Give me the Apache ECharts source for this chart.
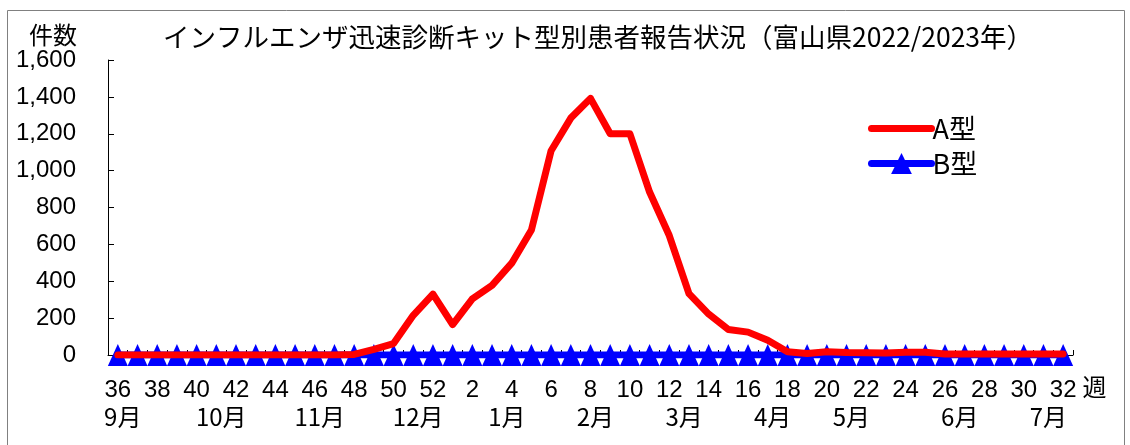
<!DOCTYPE html>
<html>
<head>
<meta charset="utf-8">
<script src="https://cdn.jsdelivr.net/npm/echarts@6/dist/echarts.min.js"></script>
<style>
html,body{margin:0;padding:0;background:#fff;}
#c{width:1130px;height:445px;}
</style>
</head>
<body>
<div id="c"></div>
<script>
// Week numbers (2022 wk36 – 2023 wk32)
const weeks = ['36','37','38','39','40','41','42','43','44','45','46','47','48','49','50','51','52',
  '1','2','3','4','5','6','7','8','9','10','11','12','13','14','15','16','17','18','19','20',
  '21','22','23','24','25','26','27','28','29','30','31','32'];
// A型 reports per week
const typeA = [0,0,0,0,0,0,0,0,0,0,0,0,3,30,62,215,330,
  165,305,378,498,678,1108,1285,1392,1200,1200,884,648,333,222,138,124,80,18,8,18,
  13,12,11,15,15,6,5,5,6,6,6,5];
// B型 reports per week
const typeB = [0,0,0,0,0,0,0,0,0,0,0,0,0,0,0,0,0,
  0,0,0,0,0,0,0,0,0,0,0,0,0,0,0,0,0,0,0,0,
  0,0,0,0,0,0,0,0,0,0,0,0];
// Month labels and their half-week slot on the week axis
const months = ['9月','10月','11月','12月','1月','2月','3月','4月','5月','6月','7月'];
const monthSlots = [1,11,21,31,40,49,58,67,75,86,95];

const halfSlots = [];
for (let j = 0; j < weeks.length * 2; j++) halfSlots.push(String(j));
const monthAt = {};
monthSlots.forEach((s, k) => { monthAt[s] = months[k]; });

const FONT = '"Noto Sans CJK JP", "Liberation Sans", sans-serif';
const chart = echarts.init(document.getElementById('c'));
chart.setOption({
  backgroundColor: '#fff',
  animation: false,
  graphic: [{
    type: 'rect', left: 5, top: 8, z: -1,
    shape: { width: 1117, height: 445 },
    style: { fill: 'none', stroke: '#808080', lineWidth: 1 }
  }],
  title: {
    text: 'インフルエンザ迅速診断キット型別患者報告状況（富山県2022/2023年）',
    left: 163, top: 24, padding: 0,
    textStyle: { fontFamily: FONT, fontSize: 26.5, fontWeight: 'normal', color: '#000' }
  },
  legend: {
    orient: 'vertical', left: 868, top: 115, padding: 0, itemGap: 8,
    itemWidth: 60, itemHeight: 26,
    lineStyle: { width: 7, cap: 'round' },
    textStyle: { fontFamily: FONT, fontSize: 27, color: '#000', padding: [0, 0, 0, -4] },
    data: [
      { name: 'A型', itemStyle: { opacity: 0 }, lineStyle: { color: '#ff0000', width: 7, cap: 'round' } },
      { name: 'B型', lineStyle: { color: '#0000ff', width: 7, cap: 'round' } }
    ]
  },
  grid: { left: 108, right: 57, top: 60, bottom: 90 },
  xAxis: [{
    type: 'category', data: weeks, boundaryGap: true, position: 'bottom',
    name: '週', nameLocation: 'end', nameGap: 5,
    nameTextStyle: { fontFamily: FONT, fontSize: 24, color: '#000', verticalAlign: 'top', padding: [20, 0, 0, 0] },
    axisLine: { lineStyle: { color: '#000', width: 1 } },
    axisTick: { show: true, inside: true, length: 5, interval: 0, lineStyle: { color: '#000' } },
    axisLabel: { interval: 1, margin: 23, fontFamily: '"Liberation Sans", sans-serif', fontSize: 24, color: '#000', lineHeight: 24 },
    splitLine: { show: false }
  }, {
    type: 'category', data: halfSlots, boundaryGap: true, position: 'bottom', offset: 27,
    axisLine: { show: false }, axisTick: { show: false }, splitLine: { show: false },
    axisLabel: {
      interval: 0, margin: 23, fontFamily: FONT, fontSize: 24, color: '#000', lineHeight: 24,
      formatter: v => monthAt[Number(v)] || ''
    }
  }],
  yAxis: {
    type: 'value', min: 0, max: 1600, interval: 200,
    name: '件数', nameLocation: 'end', nameGap: 25,
    nameTextStyle: { fontFamily: FONT, fontSize: 24, color: '#000', align: 'right', verticalAlign: 'middle', padding: [0, 31, 0, 0] },
    axisLine: { show: true, lineStyle: { color: '#000', width: 1 } },
    axisTick: { show: true, inside: true, length: 6, lineStyle: { color: '#000' } },
    axisLabel: {
      margin: 32, fontFamily: '"Liberation Sans", sans-serif', fontSize: 24, color: '#000',
      formatter: v => v.toLocaleString('en-US')
    },
    splitLine: { show: false }
  },
  series: [{
    name: 'B型', type: 'line', data: typeB, xAxisIndex: 0,
    symbol: 'triangle', symbolSize: [20, 22], showSymbol: true, showAllSymbol: true,
    itemStyle: { color: '#0000ff' },
    lineStyle: { color: '#0000ff', width: 7 },
    z: 2
  }, {
    name: 'A型', type: 'line', data: typeA, xAxisIndex: 0,
    symbol: 'none', showSymbol: false,
    itemStyle: { color: '#ff0000' },
    lineStyle: { color: '#ff0000', width: 7, cap: 'round', join: 'round' },
    z: 3
  }]
});
</script>
</body>
</html>
